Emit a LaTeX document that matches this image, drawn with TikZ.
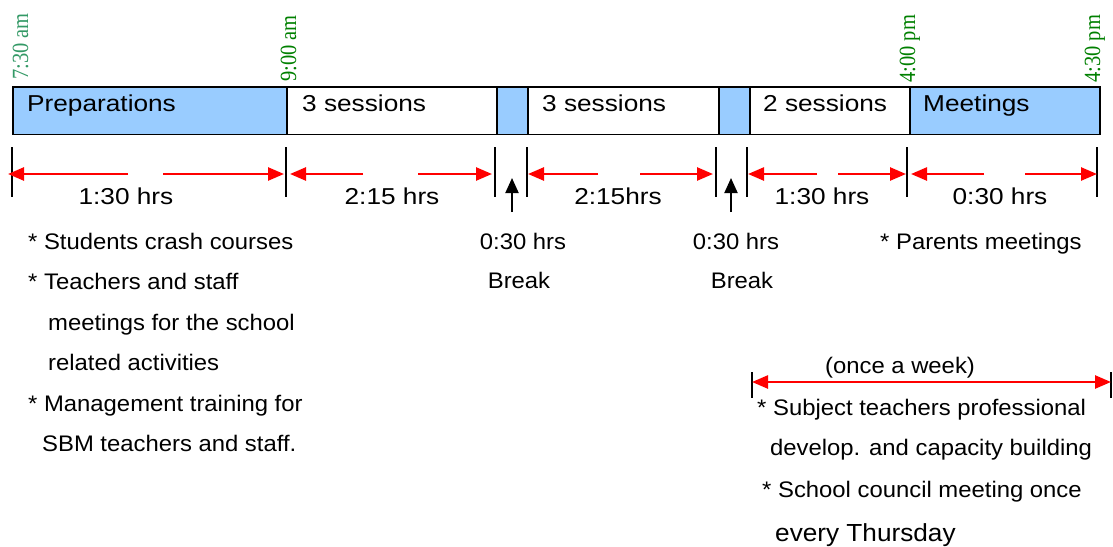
\documentclass[tikz,border=0pt]{standalone}
\usepackage{graphicx}
\usepackage{fontspec}
\setmainfont{Liberation Sans}
\newfontfamily\barfont[FakeStretch=1.14]{Liberation Sans}
\newfontfamily\notefont[FakeStretch=1.06]{Liberation Sans}
\newfontfamily\clockfont{Liberation Serif}
\usetikzlibrary{arrows.meta}
\definecolor{slotblue}{HTML}{99CCFF}
\definecolor{clockgreen}{HTML}{008000}
\definecolor{clockteal}{HTML}{339966}
\newcommand{\clocktext}[1]{\scalebox{1}[1.13]{#1}}

\begin{document}
\begin{tikzpicture}[x=1pt,y=-1pt,
  slot/.style={draw=black, line width=1.6pt, minimum height=47.5pt, anchor=north west, inner sep=0pt},
  blueslot/.style={slot, fill=slotblue},
  slotlabel/.style={anchor=base west, inner sep=0pt, font=\barfont\fontsize{23}{27}\selectfont},
  span/.style={anchor=base, inner sep=0pt, font=\barfont\fontsize{23}{27}\selectfont},
  note/.style={anchor=base west, inner sep=0pt, font=\notefont\fontsize{22.5}{27}\selectfont},
  notec/.style={note, anchor=base},
  clock/.style={rotate=90, anchor=base west, inner sep=0pt, font=\clockfont\fontsize{20.5}{24}\selectfont},
  tickline/.style={draw=black, line width=1.3pt},
  redarrow/.style={draw=red, line width=2.5pt, -{Triangle[length=16pt,width=13pt]}},
  redboth/.style={draw=red, line width=2.5pt, {Triangle[length=16pt,width=13pt]}-{Triangle[length=16pt,width=13pt]}},
  uparrow/.style={draw=black, line width=2pt, -{Triangle[length=15pt,width=13pt]}}
]
\fill[white] (0,0) rectangle (1113,546);
\useasboundingbox (0,0) rectangle (1113,546);

% day bar
\node[blueslot, minimum width=274pt] (prep) at (12,86) {};
\node[slot, minimum width=210pt] (sesA) at (286,86) {};
\node[blueslot, minimum width=31pt] (brkA) at (496,86) {};
\node[slot, minimum width=191pt] (sesB) at (527,86) {};
\node[blueslot, minimum width=31pt] (brkB) at (718,86) {};
\node[slot, minimum width=160pt] (sesC) at (749,86) {};
\node[blueslot, minimum width=190pt] (meet) at (909,86) {};

\node[slotlabel] (lprep) at (27,111) {Preparations};
\node[slotlabel] (lsesA) at (302,111) {3 sessions};
\node[slotlabel] (lsesB) at (542,111) {3 sessions};
\node[slotlabel] (lsesC) at (763,111) {2 sessions};
\node[slotlabel] (lmeet) at (923,111) {Meetings};

% clock times
\node[clock, text=clockteal] (t730) at (28,80) {\clocktext{7:30 am}};
\node[clock, text=clockgreen] (t900) at (296,82) {\clocktext{9:00 am}};
\node[clock, text=clockgreen] (t400) at (915,83) {\clocktext{4:00 pm}};
\node[clock, text=clockgreen] (t430) at (1100,83) {\clocktext{4:30 pm}};

% ticks
\foreach \x in {12,286,495,527,716,747,907,1097}
  \draw[tickline] (\x,147) -- (\x,197);

% duration arrows
\coordinate (p1a) at (128,174); \coordinate (p1b) at (8,174);
\coordinate (p2a) at (163,174); \coordinate (p2b) at (284,174);
\coordinate (p3a) at (363,174); \coordinate (p3b) at (290,174);
\coordinate (p4a) at (418,174); \coordinate (p4b) at (492,174);
\coordinate (p5a) at (598,174); \coordinate (p5b) at (528,174);
\coordinate (p6a) at (640,174); \coordinate (p6b) at (713,174);
\coordinate (p7a) at (817,174); \coordinate (p7b) at (748,174);
\coordinate (p8a) at (838,174); \coordinate (p8b) at (906,174);
\coordinate (p9a) at (984,174); \coordinate (p9b) at (911,174);
\coordinate (p10a) at (1025,174); \coordinate (p10b) at (1097,174);
\foreach \i in {1,...,10}
  \draw[redarrow] (p\i a) -- (p\i b);

\node[span] (d1) at (126,204.5) {1:30 hrs};
\node[span] (d2) at (392,204.5) {2:15 hrs};
\node[span] (d3) at (618,204.5) {2:15hrs};
\node[span] (d4) at (822,204.5) {1:30 hrs};
\node[span] (d5) at (1000,204.5) {0:30 hrs};

% break markers
\coordinate (ba0) at (512,212); \coordinate (ba1) at (512,178);
\coordinate (bb0) at (731,212); \coordinate (bb1) at (731,178);
\draw[uparrow] (ba0) -- (ba1);
\draw[uparrow] (bb0) -- (bb1);
\node[notec] (brA1) at (523,249) {0:30 hrs};
\node[notec] (brA2) at (519,288.5) {Break};
\node[notec] (brB1) at (736,249) {0:30 hrs};
\node[notec] (brB2) at (742,288.5) {Break};

% morning notes
\node[note] (n1) at (28,249) {* Students crash courses};
\node[note] (n2) at (28,289) {* Teachers and staff};
\node[note] (n3) at (48,330) {meetings for the school};
\node[note] (n4) at (48,370) {related activities};
\node[note] (n5) at (28,411) {* Management training for};
\node[note] (n6) at (42,451) {SBM teachers and staff.};

% afternoon notes
\node[note] (m1) at (880,249) {* Parents meetings};

\node[notec] (wk) at (900,373) {(once a week)};
\draw[tickline] (752,372) -- (752,398);
\draw[tickline] (1111,372) -- (1111,398);
\coordinate (wa) at (752,382); \coordinate (wb) at (1111,382);
\draw[redboth] (wa) -- (wb);

\node[note] (w1) at (757,415) {* Subject teachers professional};
\node[note] (w2) at (770,455.5) {develop. and capacity building};
\node[note] (w3) at (762,497) {* School council meeting once};
\node[note, font=\notefont\fontsize{24.7}{29}\selectfont] (w4) at (775,541) {every Thursday};
\end{tikzpicture}
\end{document}
